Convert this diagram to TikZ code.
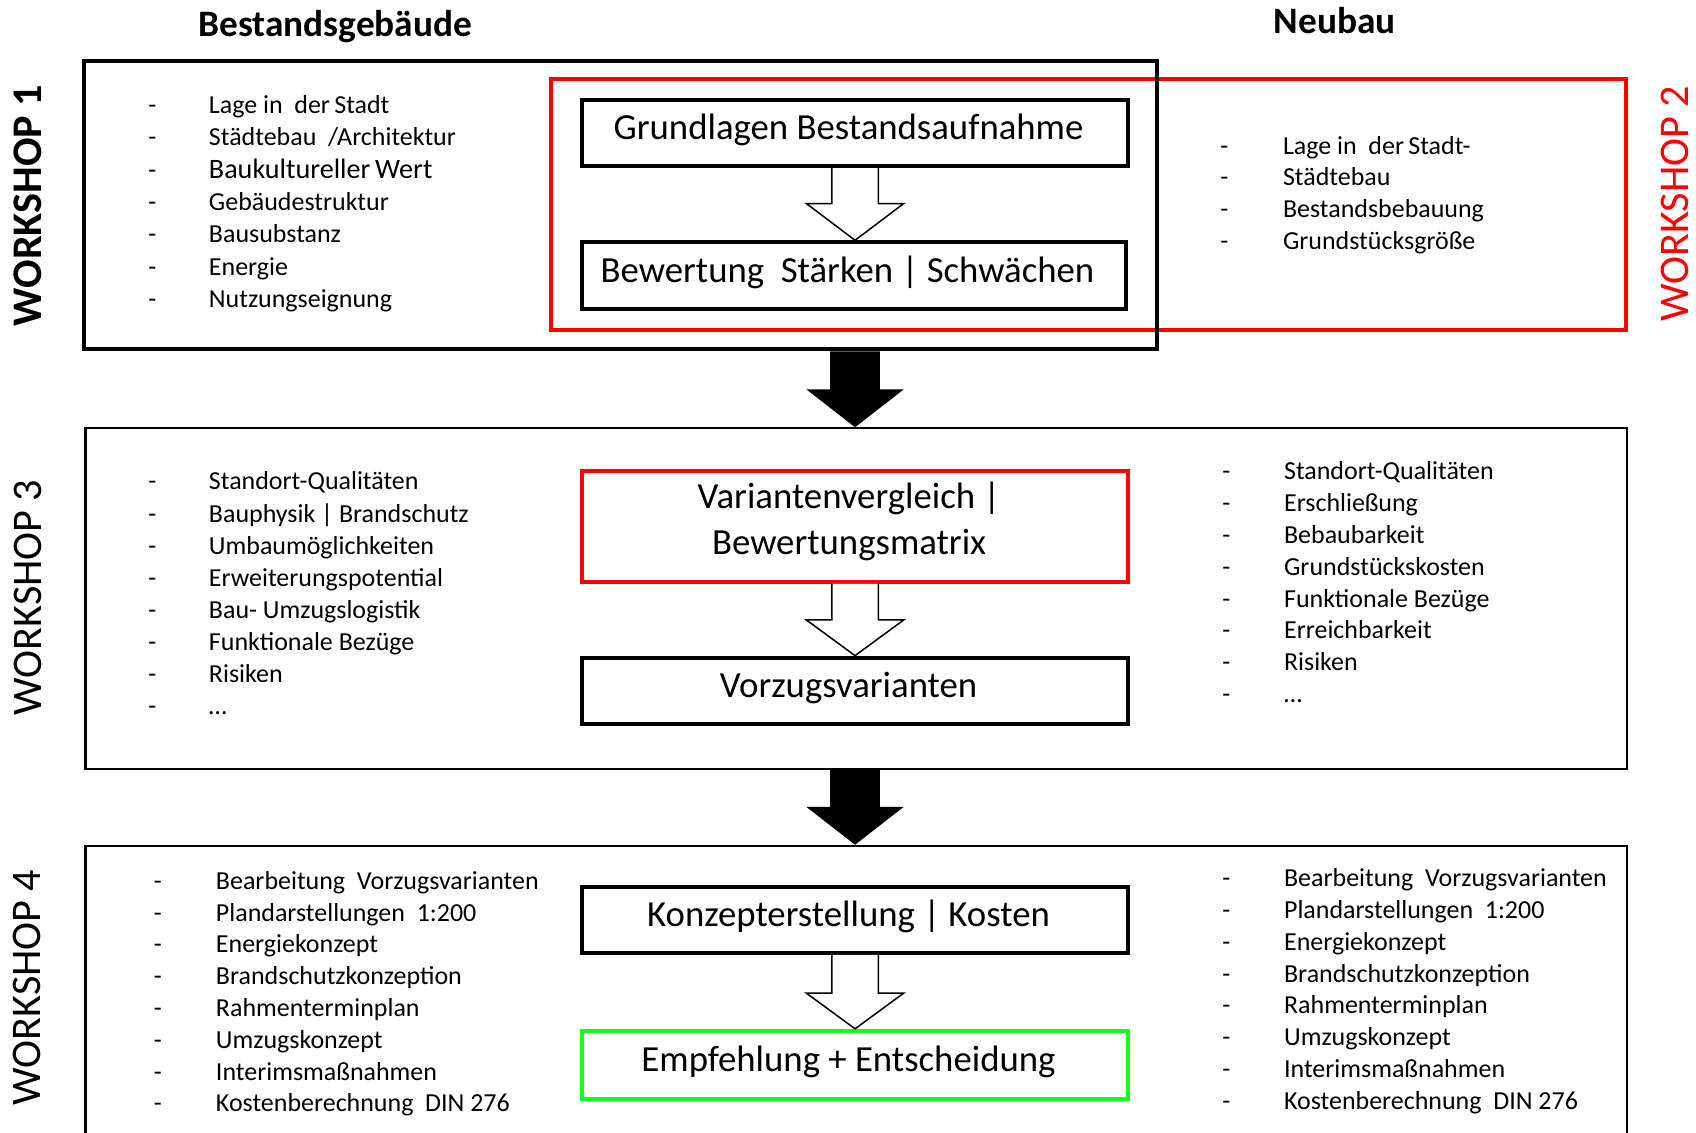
\documentclass[tikz,border=0pt]{standalone}
\usepackage{fontspec}
\setmainfont{Carlito}
\usetikzlibrary{calc}
\definecolor{wsred}{RGB}{255,0,0}
\definecolor{wsgreen}{RGB}{24,255,24}
\newcommand\itm[2][56pt]{\makebox[#1][l]{-}#2}
% #1 style, #2 start, #3 tip, #4 head length, #5 shaft half width
\newcommand\blockarrow[5]{%
  \path[#1] let \p1=#2, \p2=#3 in
    (\x1-#5pt,\y1) -- (\x1-#5pt,\y2+#4pt) -- (\x1-45pt,\y2+#4pt) -- (\x1,\y2)
    -- (\x1+45pt,\y2+#4pt) -- (\x1+#5pt,\y2+#4pt) -- (\x1+#5pt,\y1);}
\tikzset{
  frame/.style={draw, rectangle, inner sep=0pt},
  box/.style={draw, rectangle, line width=3.7pt, minimum width=505pt, minimum height=61pt,
    inner sep=0pt, font=\fontsize{34}{43}\selectfont, text height=24pt, text depth=12pt,
    execute at begin node=\hspace*{-12pt}},
  mbox/.style={draw, rectangle, line width=3.7pt, minimum width=505pt, inner sep=0pt,
    font=\fontsize{34}{43}\selectfont},
  item/.style={anchor=base west, inner sep=0pt, font=\fontsize{24}{29}\selectfont},
  head/.style={anchor=base, inner sep=0pt, font=\fontsize{34.5}{40}\selectfont\bfseries},
  wslab/.style={rotate=90, inner sep=0pt, font=\fontsize{39}{45}\selectfont},
  hollow/.style={draw, fill=white, line width=1.4pt, line join=miter},
  solidarrow/.style={fill=black},
}
\begin{document}
\begin{tikzpicture}[x=1pt,y=-1pt]
\useasboundingbox (0,0) rectangle (1568,1047);
\clip (0,0) rectangle (1568,1047);
% headers
\node[head] (hb) at (310,34) {Bestandsgebäude};
\node[head] (hn) at (1234,31) {Neubau};
% frames
\node[frame, draw=wsred, line width=3.6pt, minimum width=994pt, minimum height=232pt] (ws2) at (1006,189) {};
\node[frame, line width=3.7pt, minimum width=992pt, minimum height=267pt] (ws1) at (574,189.5) {};
\node[frame, line width=2pt, minimum width=1425pt, minimum height=315pt] (ws3) at (791.5,553.5) {};
\node[frame, line width=2pt, minimum width=1425pt, minimum height=300pt] (ws4) at (791.5,932) {};
% workshop labels
\node[wslab, font=\fontsize{39}{45}\selectfont\bfseries] (lab1) at (25.7,190) {WORKSHOP 1};
\node[wslab, text=wsred] (lab2) at (1548.5,188.5) {WORKSHOP 2};
\node[wslab] (lab3) at (25.7,552.5) {WORKSHOP 3};
\node[wslab] (lab4) at (25,913) {WORKSHOP 4};
% process boxes
\node[box] (g1) at (790.5,123) {Grundlagen Bestandsaufnahme};
\node[box, minimum width=503pt, minimum height=62pt] (g2) at (789.5,255) {Bewertung\ \ Stärken | Schwächen};
\node[mbox, draw=wsred, minimum height=103pt] (v1) at (790.5,486.5)
  {\hspace*{-11pt}\raisebox{3.5pt}[\height][\depth]{\begin{tabular}{@{}c@{}}Variantenvergleich |\\Bewertungsmatrix\end{tabular}}};
\node[box] (v2) at (790.5,638.5) {Vorzugsvarianten};
\node[box] (k1) at (790.5,850.5) {Konzepterstellung | Kosten};
\node[box, draw=wsgreen, minimum height=63pt] (k2) at (790.5,984.5) {Empfehlung + Entscheidung};
% arrows
\blockarrow{hollow}{(g1.south)}{(g2.north)}{34}{21.5}
\blockarrow{hollow}{(v1.south)}{(v2.north)}{33}{21.5}
\blockarrow{hollow}{(k1.south)}{(k2.north)}{33}{21.5}
\blockarrow{solidarrow}{(ws1.south -| g1)}{(ws3.north -| g1)}{35}{23}
\blockarrow{solidarrow}{(ws3.south -| g1)}{(ws4.north -| g1)}{35}{23}
% lists workshop 1
\foreach \t [count=\i] in {Lage in\ \ der\,Stadt, Städtebau\ \ /Architektur,
  {\fontsize{26}{30}\selectfont Baukultureller\,Wert}, Gebäudestruktur, Bausubstanz, Energie, Nutzungseignung}
  \node[item] (a\i) at (137,{105+29.9*(\i-1)}) {\itm{\t}};
\foreach \t [count=\i] in {Lage in\ \ der\,Stadt-, Städtebau, Bestandsbebauung, Grundstücksgröße}
  \node[item] (b\i) at (1128,{142.4+29.4*(\i-1)}) {\itm[58pt]{\t}};
% lists workshop 3
\foreach \t [count=\i] in {Standort-Qualitäten, Bauphysik | Brandschutz, Umbaumöglichkeiten,
  Erweiterungspotential, Bau- Umzugslogistik, Funktionale Bezüge, Risiken, \ldots}
  \node[item] (c\i) at (137,{453+29.6*(\i-1)}) {\itm{\t}};
\foreach \t [count=\i] in {Standort-Qualitäten, Erschließung, Bebaubarkeit, Grundstückskosten,
  Funktionale Bezüge, Erreichbarkeit, Risiken, \ldots}
  \node[item] (d\i) at (1130,{443.2+29.5*(\i-1)}) {\itm[57pt]{\t}};
% lists workshop 4
\foreach \t [count=\i] in {Bearbeitung\ \ Vorzugsvarianten, Plandarstellungen\ \ 1:200, Energiekonzept,
  Brandschutzkonzeption, Rahmenterminplan, Umzugskonzept, Interimsmaßnahmen, Kostenberechnung\ \ DIN 276}
  \node[item] (e\i) at (142,{822.2+29.4*(\i-1)}) {\itm[57.5pt]{\t}};
\foreach \t [count=\i] in {Bearbeitung\ \ Vorzugsvarianten, Plandarstellungen\ \ 1:200, Energiekonzept,
  Brandschutzkonzeption, Rahmenterminplan, Umzugskonzept, Interimsmaßnahmen, Kostenberechnung\ \ DIN 276}
  \node[item] (f\i) at (1130,{819.8+29.4*(\i-1)}) {\itm[57pt]{\t}};
\end{tikzpicture}
\end{document}
